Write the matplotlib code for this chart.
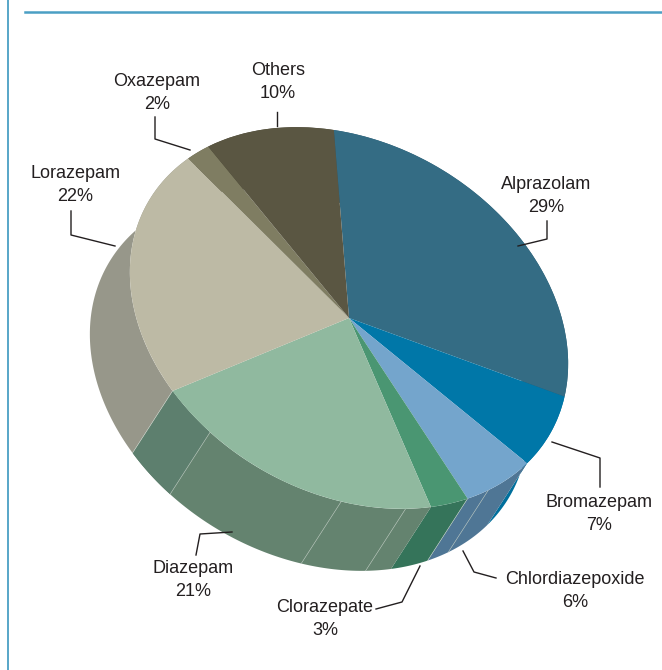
import numpy as np
import matplotlib
matplotlib.use("Agg")
import matplotlib.pyplot as plt
from matplotlib.patches import Wedge, Polygon
from matplotlib.transforms import Affine2D

drugs = ["Alprazolam", "Bromazepam", "Chlordiazepoxide", "Clorazepate", "Diazepam", "Lorazepam", "Oxazepam", "Others"]
shares = [29, 7, 6, 3, 21, 22, 2, 10]
top_colors = ["#346c84", "#0077a8", "#74a5cc", "#4a9672", "#90b99f", "#bdbaa5", "#7f7d62", "#5a5642"]
side_colors = ["#2a5a70", "#006f9c", "#4f7695", "#35745a", "#64836f", "#97978a", "#6b6a55", "#4a4736"]

# label text position, then leader line (all in image pixels)
label_xy = [(546, 196), (599, 514), (575, 591), (325, 619), (193, 580), (75, 185), (157, 93), (278, 82)]
leaders = [
    [(518, 246), (547, 239), (547, 221)],
    [(552, 442), (600, 458), (600, 487)],
    [(463, 551), (474, 572), (496, 578)],
    [(420, 566), (402, 602), (376, 609)],
    [(232, 532), (200, 534), (196, 555)],
    [(115, 246), (71, 235), (71, 211)],
    [(190, 150), (155, 139), (155, 117)],
    [(277, 126), (277, 112)],
]

# rim angles where the side wall has an extra seam
seams = [51.5, 68.5, 105.8, 27.0]
dark_patch = (105.8, 119.9, "#5d7f6e")

cx, cy = 349, 318
semi_a, semi_b, tilt = 232, 175, 30
depth = np.array([-40, 62])
start = -117.5

fig = plt.figure(figsize=(6.62, 6.70), dpi=100)
ax = fig.add_axes([0, 0, 1, 1])
ax.set_xlim(0, 662)
ax.set_ylim(670, 0)
ax.axis("off")

face = Affine2D().scale(semi_a, semi_b).rotate_deg(tilt).translate(cx, cy)


def rim(deg):
    deg = np.radians(np.atleast_1d(deg))
    return face.transform(np.column_stack([np.cos(deg), np.sin(deg)]))


edges = start + np.cumsum([0] + shares) * 3.6

# walls first, then the top face goes over them
for i in range(len(shares)):
    arc = rim(np.linspace(edges[i], edges[i + 1], 80))
    ax.add_patch(Polygon(np.vstack([arc, (arc + depth)[::-1]]), closed=True,
                         fc=side_colors[i], ec="none", zorder=2))

a0, a1, c = dark_patch
arc = rim(np.linspace(a0, a1, 40))
ax.add_patch(Polygon(np.vstack([arc, (arc + depth)[::-1]]), closed=True, fc=c, ec="none", zorder=3))

for deg in seams + [edges[3], edges[5]]:
    p = rim(deg)[0]
    ax.plot([p[0], p[0] + depth[0]], [p[1], p[1] + depth[1]], color="#c4cfc6", lw=0.4, zorder=4)

for i in range(len(shares)):
    ax.add_patch(Wedge((0, 0), 1, edges[i], edges[i + 1], fc=top_colors[i], ec="none",
                       transform=face + ax.transData, zorder=5))

for name, share, (x, y) in zip(drugs, shares, label_xy):
    ax.text(x, y, f"{name}\n{share}%", ha="center", va="center", fontsize=13,
            family=["Liberation Sans", "DejaVu Sans"], color="#231f20", linespacing=1.5, zorder=7)

for line in leaders:
    xs, ys = zip(*line)
    ax.plot(xs, ys, color="#231f20", lw=1.0, zorder=6)

# page rules
ax.plot([25, 662], [12, 12], color="#4a9fc4", lw=1.8)
ax.plot([8, 8], [0, 670], color="#4a9fc4", lw=1.3)

fig.savefig("out.png", dpi=100)
